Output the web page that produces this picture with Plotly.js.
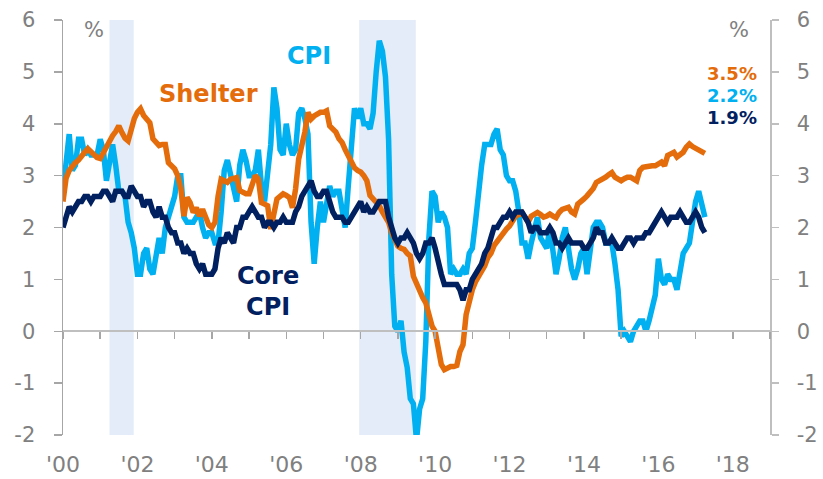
<!DOCTYPE html>
<html>
<head>
<meta charset="utf-8">
<script src="https://cdn.plot.ly/plotly-3.0.1.min.js"></script>
<style>html,body{margin:0;padding:0;background:#fff;}#chart{width:823px;height:479px;}</style>
</head>
<body>
<div id="chart"></div>
<script>
// Monthly year-over-year % change, Jan 2000 - Apr 2017
const startYear = 2000;
const cpi = [
  2.7, 3.2, 3.8, 3.1, 3.2, 3.7, 3.7, 3.4, 3.5, 3.4, 3.4, 3.4,
  3.7, 3.5, 2.9, 3.3, 3.6, 3.2, 2.7, 2.7, 2.6, 2.1, 1.9, 1.6,
  1.1, 1.1, 1.5, 1.6, 1.2, 1.1, 1.5, 1.8, 1.5, 2.0, 2.2, 2.4,
  2.6, 3.0, 3.0, 2.2, 2.1, 2.1, 2.1, 2.2, 2.3, 2.0, 1.8, 1.9,
  1.9, 1.7, 1.7, 2.3, 3.1, 3.3, 3.0, 2.7, 2.5, 3.2, 3.5, 3.3,
  3.0, 3.0, 3.1, 3.5, 2.8, 2.5, 3.2, 3.6, 4.7, 4.3, 3.5, 3.4,
  4.0, 3.6, 3.4, 3.5, 4.2, 4.3, 4.1, 3.8, 2.1, 1.3, 2.0, 2.5,
  2.1, 2.4, 2.8, 2.6, 2.7, 2.7, 2.4, 2.0, 2.8, 3.5, 4.3, 4.1,
  4.3, 4.0, 4.0, 3.9, 4.2, 5.0, 5.6, 5.4, 4.9, 3.7, 1.1, 0.1,
  0.0, 0.2, -0.4, -0.7, -1.3, -1.4, -2.1, -1.5, -1.3, -0.2, 1.8, 2.7,
  2.6, 2.1, 2.3, 2.2, 2.0, 1.1, 1.2, 1.1, 1.1, 1.2, 1.1, 1.5,
  1.6, 2.1, 2.7, 3.2, 3.6, 3.6, 3.6, 3.8, 3.9, 3.5, 3.4, 3.0,
  2.9, 2.9, 2.7, 2.3, 1.7, 1.7, 1.4, 1.7, 2.0, 2.2, 1.8, 1.7,
  1.6, 2.0, 1.5, 1.1, 1.4, 1.8, 2.0, 1.5, 1.2, 1.0, 1.2, 1.5,
  1.6, 1.1, 1.5, 2.0, 2.1, 2.1, 2.0, 1.7, 1.7, 1.7, 1.3, 0.8,
  -0.1, 0.0, -0.1, -0.2, 0.0, 0.1, 0.2, 0.2, 0.0, 0.2, 0.5, 0.7,
  1.4, 1.0, 0.9, 1.1, 1.0, 1.0, 0.8, 1.1, 1.5, 1.6, 1.7, 2.1,
  2.5, 2.7, 2.4, 2.2
];
const coreCpi = [
  2.0, 2.2, 2.4, 2.3, 2.4, 2.5, 2.5, 2.6, 2.6, 2.5, 2.6, 2.6,
  2.6, 2.7, 2.7, 2.6, 2.5, 2.7, 2.7, 2.7, 2.6, 2.6, 2.8, 2.7,
  2.6, 2.6, 2.4, 2.5, 2.5, 2.3, 2.2, 2.4, 2.2, 2.2, 2.0, 1.9,
  1.9, 1.7, 1.7, 1.5, 1.6, 1.5, 1.5, 1.3, 1.2, 1.3, 1.1, 1.1,
  1.1, 1.2, 1.6, 1.8, 1.7, 1.9, 1.8, 1.7, 2.0, 2.0, 2.2, 2.2,
  2.3, 2.4, 2.3, 2.2, 2.2, 2.0, 2.1, 2.1, 2.0, 2.1, 2.1, 2.2,
  2.1, 2.1, 2.1, 2.3, 2.4, 2.6, 2.7, 2.8, 2.9, 2.7, 2.6, 2.6,
  2.7, 2.7, 2.5, 2.3, 2.2, 2.2, 2.2, 2.1, 2.1, 2.2, 2.3, 2.4,
  2.5, 2.3, 2.4, 2.3, 2.3, 2.4, 2.5, 2.5, 2.5, 2.2, 2.0, 1.8,
  1.7, 1.8, 1.8, 1.9, 1.8, 1.7, 1.5, 1.4, 1.5, 1.7, 1.7, 1.8,
  1.6, 1.3, 1.1, 0.9, 0.9, 0.9, 0.9, 0.9, 0.8, 0.6, 0.8, 0.8,
  1.0, 1.1, 1.2, 1.3, 1.5, 1.6, 1.8, 2.0, 2.0, 2.1, 2.2, 2.2,
  2.3, 2.2, 2.3, 2.3, 2.3, 2.2, 2.1, 1.9, 2.0, 2.0, 1.9, 1.9,
  1.9, 2.0, 1.9, 1.7, 1.7, 1.6, 1.7, 1.8, 1.7, 1.7, 1.7, 1.7,
  1.6, 1.6, 1.7, 1.8, 2.0, 1.9, 1.9, 1.7, 1.7, 1.8, 1.7, 1.6,
  1.6, 1.7, 1.8, 1.8, 1.7, 1.8, 1.8, 1.8, 1.9, 1.9, 2.0, 2.1,
  2.2, 2.3, 2.2, 2.1, 2.2, 2.2, 2.2, 2.3, 2.2, 2.1, 2.1, 2.2,
  2.3, 2.2, 2.0, 1.9
];
const shelter = [
  2.5, 2.95, 3.1, 3.2, 3.25, 3.3, 3.4, 3.45, 3.52, 3.45, 3.4, 3.35,
  3.33, 3.45, 3.55, 3.65, 3.77, 3.85, 3.96, 3.83, 3.72, 3.67, 3.9, 4.1,
  4.22, 4.29, 4.16, 4.1, 4.02, 3.71, 3.65, 3.58, 3.6, 3.6, 3.25, 3.18,
  3.13, 3.0, 2.75, 2.22, 2.58, 2.48, 2.29, 2.38, 2.22, 2.35, 2.16, 2.05,
  2.0, 2.1, 2.6, 2.93, 2.9, 2.87, 2.93, 2.95, 2.96, 2.71, 2.68, 2.65,
  2.65, 2.8, 3.0, 2.93, 2.48, 2.45, 2.42, 1.97, 2.22, 2.55, 2.6, 2.65,
  2.62, 2.58, 2.38, 2.74, 3.32, 3.58, 3.84, 4.22, 4.09, 4.15, 4.19, 4.22,
  4.22, 4.25, 3.96, 3.9, 3.84, 3.71, 3.64, 3.5, 3.39, 3.26, 3.15, 3.1,
  3.07, 3.0, 2.9, 2.62, 2.55, 2.5, 2.42, 2.3, 2.22, 2.1, 1.9, 1.75,
  1.64, 1.6, 1.58, 1.5, 1.45, 1.06, 0.9, 0.8, 0.65, 0.55, 0.32, 0.1,
  0.0, -0.32, -0.64, -0.74, -0.7, -0.68, -0.68, -0.66, -0.39, -0.26, 0.32, 0.58,
  0.8, 0.95, 1.05, 1.15, 1.26, 1.42, 1.5, 1.65, 1.74, 1.82, 1.9, 1.97,
  2.03, 2.12, 2.22, 2.25, 2.29, 2.2, 2.1, 2.22, 2.25, 2.29, 2.25, 2.2,
  2.22, 2.26, 2.22, 2.19, 2.29, 2.35, 2.37, 2.39, 2.3, 2.26, 2.45, 2.52,
  2.55, 2.61, 2.67, 2.75, 2.87, 2.9, 2.92, 2.97, 3.02, 3.06, 2.97, 2.92,
  2.9, 2.94, 2.97, 2.97, 2.94, 2.9, 3.1, 3.16, 3.17, 3.19, 3.19, 3.19,
  3.22, 3.26, 3.19, 3.39, 3.42, 3.45, 3.36, 3.4, 3.45, 3.55, 3.61, 3.56,
  3.52, 3.48, 3.45, 3.43
];
const recessionStart = [2001.25, 2007.96];
const recessionEnd = [2001.9, 2009.48];
const xTickVals = [2000, 2002, 2004, 2006, 2008, 2010, 2012, 2014, 2016, 2018];
const xTickText = ["'00", "'02", "'04", "'06", "'08", "'10", "'12", "'14", "'16", "'18"];
const yTickVals = [-2, -1, 0, 1, 2, 3, 4, 5, 6];
const yTickText = ["-2", "-1", "0", "1", "2", "3", "4", "5", "6"];
const latestLabels = ["3.5%", "2.2%", "1.9%"];

const months = cpi.map((_, i) => startYear + i / 12);

const C_CPI = '#00B0F0', C_SHELTER = '#E46C0A', C_CORE = '#002060';
const GRAY = '#808080', AXIS = '#A6A6A6';
const FONT = 'Verdana, "DejaVu Sans", sans-serif';
const LW = 5.5;

const traces = [
  {x: months, y: cpi, type: 'scatter', mode: 'lines', xaxis: 'x', yaxis: 'y',
   line: {color: C_CPI, width: LW}, hoverinfo: 'skip'},
  {x: months, y: coreCpi, type: 'scatter', mode: 'lines', xaxis: 'x2', yaxis: 'y',
   line: {color: C_CORE, width: LW}, hoverinfo: 'skip'},
  {x: months, y: shelter, type: 'scatter', mode: 'lines', xaxis: 'x', yaxis: 'y',
   line: {color: C_SHELTER, width: LW}, hoverinfo: 'skip'},
  {x: months, y: shelter, type: 'scatter', mode: 'lines', xaxis: 'x', yaxis: 'y2',
   line: {width: 0}, opacity: 0, hoverinfo: 'skip'}
];

const shapes = recessionStart.map((s, i) => ({
  type: 'rect', xref: 'x', yref: 'paper', x0: s, x1: recessionEnd[i], y0: 0, y1: 1,
  fillcolor: '#E3ECF8', line: {width: 0}, layer: 'below'
}));

const annotations = [
  {text: '%', xref: 'paper', yref: 'paper', x: 0.044, y: 0.976, xanchor: 'center', yanchor: 'middle', showarrow: false,
   font: {family: FONT, size: 21, color: GRAY}},
  {text: '%', xref: 'paper', yref: 'paper', x: 0.956, y: 0.976, xanchor: 'center', yanchor: 'middle', showarrow: false,
   font: {family: FONT, size: 21, color: GRAY}},
  {text: '<b>CPI</b>', xref: 'x', yref: 'y', x: 2006.6, y: 5.3, showarrow: false,
   font: {family: FONT, size: 24, color: C_CPI}},
  {text: '<b>Shelter</b>', xref: 'x', yref: 'y', x: 2003.9, y: 4.58, showarrow: false,
   font: {family: FONT, size: 24, color: C_SHELTER}},
  {text: '<b>Core<br>CPI</b>', xref: 'x', yref: 'y', x: 2005.5, y: 0.76, showarrow: false,
   font: {family: FONT, size: 24, color: C_CORE}},
  {text: '<b>' + latestLabels[0] + '</b>', xref: 'paper', yref: 'y', x: 0.985, y: 4.96, xanchor: 'right', showarrow: false,
   font: {family: FONT, size: 18, color: C_SHELTER}},
  {text: '<b>' + latestLabels[1] + '</b>', xref: 'paper', yref: 'y', x: 0.985, y: 4.54, xanchor: 'right', showarrow: false,
   font: {family: FONT, size: 18, color: C_CPI}},
  {text: '<b>' + latestLabels[2] + '</b>', xref: 'paper', yref: 'y', x: 0.985, y: 4.12, xanchor: 'right', showarrow: false,
   font: {family: FONT, size: 18, color: C_CORE}}
];

const layout = {
  width: 823, height: 479,
  margin: {l: 63, r: 53, t: 20, b: 44, pad: 0},
  paper_bgcolor: '#fff', plot_bgcolor: 'rgba(0,0,0,0)',
  showlegend: false,
  font: {family: FONT, color: GRAY},
  xaxis: {
    range: [2000, 2019], showgrid: false, zeroline: false, showline: false,
    tickmode: 'array', tickvals: xTickVals, ticktext: xTickText, ticks: '',
    tickfont: {family: FONT, size: 22, color: GRAY}, ticklabelstandoff: 14, fixedrange: true
  },
  xaxis2: {
    matches: 'x', overlaying: 'x', anchor: 'free', position: 0.25, side: 'bottom',
    showgrid: false, zeroline: false, showline: true, linecolor: '#BFBFBF', linewidth: 2,
    ticks: 'outside', ticklen: 7, tickwidth: 1.5, tickcolor: '#A6A6A6',
    tickmode: 'linear', tick0: 2000, dtick: 1, showticklabels: false
  },
  yaxis: {
    range: [-2, 6], tickmode: 'array', tickvals: yTickVals, ticktext: yTickText,
    showgrid: false, zeroline: false,
    showline: true, linecolor: AXIS, linewidth: 1.5,
    ticks: 'outside', ticklen: 8, tickwidth: 1.5, tickcolor: AXIS,
    tickfont: {family: FONT, size: 21, color: GRAY}, ticklabelstandoff: 14, fixedrange: true
  },
  yaxis2: {
    range: [-2, 6], tickmode: 'array', tickvals: yTickVals, ticktext: yTickText,
    overlaying: 'y', side: 'right', anchor: 'x',
    showgrid: false, zeroline: false,
    showline: true, linecolor: '#BFBFBF', linewidth: 1.5,
    ticks: 'outside', ticklen: 7, tickwidth: 1.5, tickcolor: '#BFBFBF',
    tickfont: {family: FONT, size: 21, color: GRAY}, ticklabelstandoff: 14, fixedrange: true
  },
  shapes: shapes,
  annotations: annotations
};

Plotly.newPlot('chart', traces, layout, {displayModeBar: false, staticPlot: true});
</script>
</body>
</html>
